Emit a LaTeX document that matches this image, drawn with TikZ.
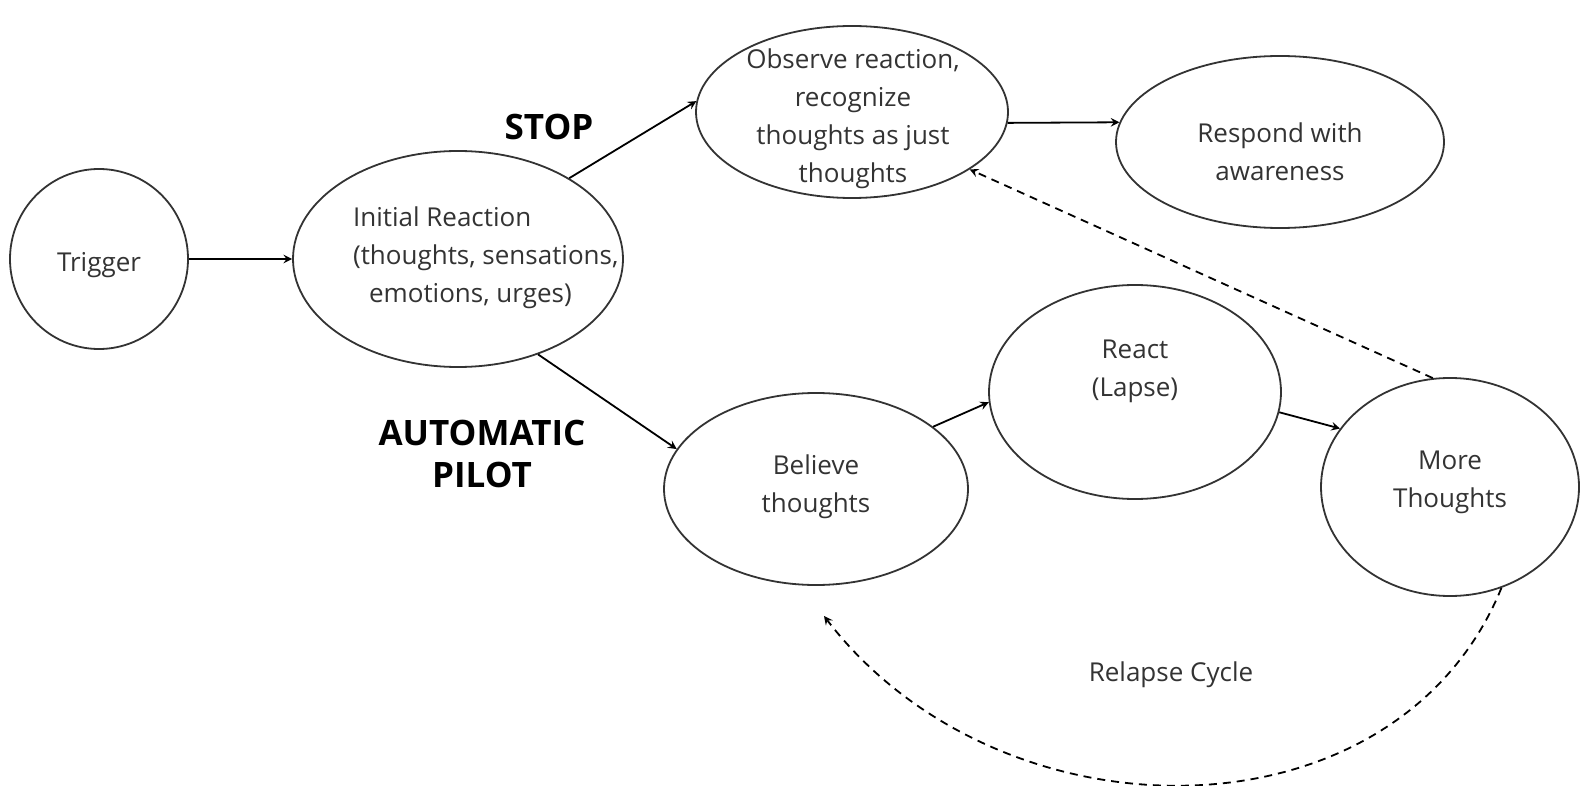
\documentclass[tikz,border=0pt]{standalone}
\usepackage{fontspec}
\setmainfont{Open Sans}
\usetikzlibrary{shapes.geometric}

\tikzset{
  bubble/.style={draw=black!80,line width=0.9pt,ellipse,inner sep=0pt},
  txt/.style={align=center,text=black!80,font=\fontsize{13}{19}\selectfont},
  tag/.style={align=center,font=\fontsize{17.5}{21}\selectfont\bfseries},
  link/.style={->,line width=0.9pt},
  backlink/.style={->,line width=0.9pt,dash pattern=on 4pt off 3pt},
}

\begin{document}
\begin{tikzpicture}[x=0.5pt,y=-0.5pt,>=stealth]
  \useasboundingbox (0,0) rectangle (1596,786);

  % the states
  \node[bubble,minimum width=89pt,minimum height=90pt] (trigger) at (99,259) {};
  \node[bubble,minimum width=165pt,minimum height=108pt] (init) at (458,259) {};
  \node[bubble,minimum width=156pt,minimum height=86pt] (obs) at (852,112) {};
  \node[bubble,minimum width=164pt,minimum height=86pt] (resp) at (1280,142) {};
  \node[bubble,minimum width=152pt,minimum height=96pt] (bel) at (816,489) {};
  \node[bubble,minimum width=146pt,minimum height=107pt] (react) at (1135,392) {};
  \node[bubble,minimum width=129pt,minimum height=109pt] (more) at (1450,487) {};

  \node[txt] (trigger-t) at (99,265) {Trigger};
  \node[txt,align=left,anchor=west] (init-t) at (346,258)
    {Initial Reaction\\(thoughts, sensations,\\\hspace{8pt}emotions, urges)};
  \node[txt] (obs-t) at (853,119)
    {Observe reaction,\\recognize\\thoughts as just\\thoughts};
  \node[txt] (resp-t) at (1280,152) {Respond with\\awareness};
  \node[txt] (bel-t) at (816,487) {Believe\\thoughts};
  \node[txt] (react-t) at (1135,371) {React\\(Lapse)};
  \node[txt] (more-t) at (1450,482) {More\\Thoughts};

  % labels
  \node[tag] (stop) at (549,127) {STOP};
  \node[tag] (pilot) at (482,454) {AUTOMATIC\\PILOT};
  \node[txt] (cycle) at (1171,675) {Relapse Cycle};

  % arrows
  \draw[link] (trigger) -- (init);
  \draw[link] (init.36) -- (obs.176);
  \draw[link] (obs.-4) -- (resp.173);
  \draw[link] (init.-50) -- (bel.164);
  \draw[link] (bel.28) -- (react.184);
  \draw[link] (react.-8) -- (more.152);

  \draw[backlink] (more.99) -- (obs.-26);
  \coordinate (relapse-end) at (824,616);
  \draw[backlink] (more.-63) .. controls (1396,846) and (1001,846) .. (relapse-end);
\end{tikzpicture}
\end{document}
